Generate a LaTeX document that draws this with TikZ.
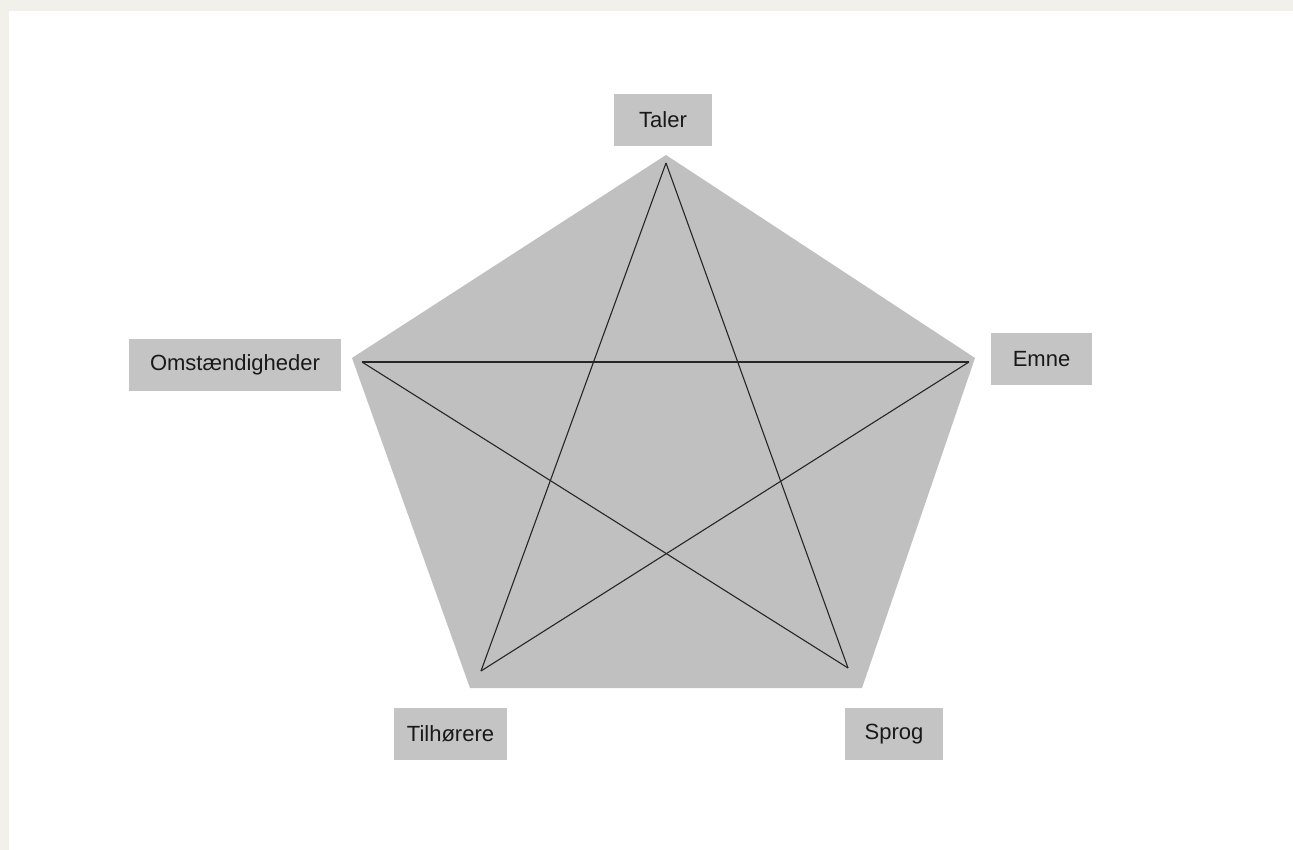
\documentclass[tikz,border=0pt]{standalone}
\usepackage{fontspec}
\setmainfont{Liberation Sans}
\definecolor{pagebg}{HTML}{F1F0EB}
\definecolor{pent}{HTML}{C0C0C0}
\definecolor{boxgray}{HTML}{C4C4C4}
\definecolor{linecol}{HTML}{262626}
\tikzset{
  lbl/.style={fill=boxgray, inner sep=0pt, minimum height=52pt, font=\fontsize{22}{26}\selectfont, text=black!90},
  starline/.style={draw=linecol, line width=1.1pt}
}
\begin{document}
\begin{tikzpicture}[x=1pt,y=-1pt]
\fill[pagebg] (0,0) rectangle (1293,850);
\useasboundingbox (0,0) rectangle (1293,850);
\fill[white] (9,11) rectangle (1293,850);
% pentagon
\coordinate (pT) at (666,155);
\coordinate (pR) at (975,358);
\coordinate (pBR) at (862,688);
\coordinate (pBL) at (470,688);
\coordinate (pL) at (352,358);
\fill[pent] (pT) -- (pR) -- (pBR) -- (pBL) -- (pL) -- cycle;
% star vertices
\coordinate (sT) at (666,163);
\coordinate (sR) at (969,362);
\coordinate (sBR) at (848,668);
\coordinate (sBL) at (481,671);
\coordinate (sL) at (362,362);
\draw[starline] (sT) -- (sBL);
\draw[starline] (sT) -- (sBR);
\draw[starline] (sL) -- (sR);
\draw[starline] (sL) -- (sBR);
\draw[starline] (sR) -- (sBL);
% labels
\node[lbl, minimum width=98pt] (taler) at (663,120) {Taler};
\node[lbl, minimum width=212pt] (omst) at (235,365) {Omstændigheder};
\node[lbl, minimum width=101pt] (emne) at (1041.5,359) {Emne};
\node[lbl, minimum width=113pt] (tilh) at (450.5,734) {Tilhørere};
\node[lbl, minimum width=98pt] (sprog) at (894,734) {Sprog};
\end{tikzpicture}
\end{document}
